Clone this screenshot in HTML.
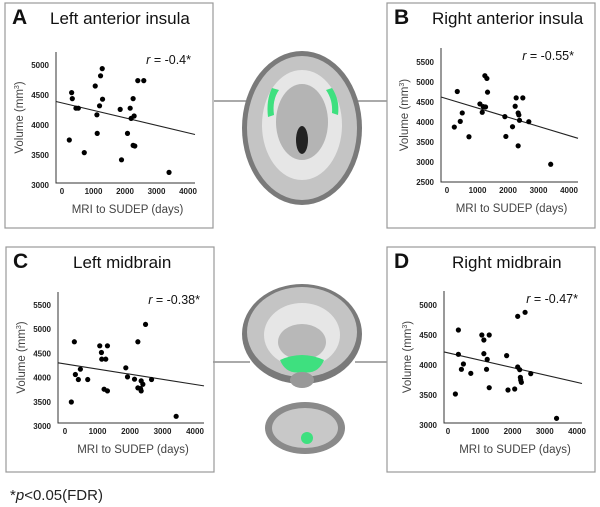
<!DOCTYPE html>
<html><head><meta charset="utf-8"><style>
body{margin:0;background:#fff;}
svg{display:block;font-family:"Liberation Sans",sans-serif;}
</style></head><body>
<svg id="fig" width="600" height="507" viewBox="0 0 600 507">
<g stroke="#555" stroke-width="1">
<line x1="214" y1="101" x2="252" y2="101"/><line x1="352" y1="101" x2="387" y2="101"/>
<line x1="213" y1="362" x2="250" y2="362"/><line x1="355" y1="362" x2="387" y2="362"/>
</g>
<g>
<ellipse cx="302" cy="128" rx="60" ry="77" fill="#7a7a7a"/>
<ellipse cx="302" cy="128" rx="55" ry="72" fill="#c4c4c4"/>
<ellipse cx="302" cy="125" rx="40" ry="55" fill="#e6e6e6"/>
<ellipse cx="302" cy="122" rx="26" ry="38" fill="#b4b4b4"/>
<ellipse cx="302" cy="140" rx="6" ry="14" fill="#222"/>
<path d="M272 88 Q266 100 268 117 L274 115 Q272 100 279 90Z" fill="#3ee07f"/>
<path d="M332 88 Q340 100 338 115 L332 113 Q333 100 326 90Z" fill="#3ee07f"/>
</g>
<g>
<ellipse cx="302" cy="334" rx="60" ry="50" fill="#7a7a7a"/>
<ellipse cx="302" cy="332" rx="55" ry="45" fill="#c4c4c4"/>
<ellipse cx="302" cy="335" rx="38" ry="32" fill="#e6e6e6"/>
<ellipse cx="302" cy="342" rx="24" ry="18" fill="#b8b8b8"/>
<path d="M280 360 Q302 350 324 360 Q318 375 302 372 Q286 375 280 360Z" fill="#3ee07f"/>
<ellipse cx="302" cy="380" rx="12" ry="8" fill="#999"/>
</g>
<g>
<ellipse cx="305" cy="428" rx="40" ry="26" fill="#8a8a8a"/>
<ellipse cx="305" cy="428" rx="33" ry="20" fill="#c8c8c8"/>
<circle cx="307" cy="438" r="6" fill="#3ee07f"/>
</g>
<text x="10" y="500" font-size="15" fill="#222">*<tspan font-style="italic">p</tspan>&lt;0.05(FDR)</text>
</svg>
<script>
const xTicks=[0,1000,2000,3000,4000];
const aX=[232,306,327,443,517,707,1055,1108,1118,1192,1224,1277,1287,1847,1889,2079,2164,2195,2258,2290,2258,2311,2406,2596,3398];
const aY=[3750,4540,4440,4280,4280,3540,4650,4170,3860,4320,4820,4940,4430,4260,3420,3860,4280,4110,4440,4150,3660,3650,4740,4740,3210];
const aTicks=[3000,3500,4000,4500,5000];
const aFit=[4368,-0.1246];
const bX=[240,337,435,500,720,1079,1155,1188,1242,1308,1264,1329,1897,1930,2148,2235,2268,2333,2355,2333,2377,2486,2682,3400];
const bY=[3874,4762,4016,4226,3631,4452,4243,4385,5157,5089,4376,4746,4134,3639,3882,4394,4603,4226,4176,3404,4042,4603,4008,2943];
const bTicks=[2500,3000,3500,4000,4500,5000,5500];
const bFit=[4580,-0.23];
const cX=[195,288,319,411,473,699,1069,1121,1131,1254,1306,1203,1306,1871,1923,2139,2242,2242,2324,2344,2344,2396,2478,2663,3420];
const cY=[3496,4740,4064,3960,4174,3960,4657,4519,4381,4381,4657,3760,3725,4202,4015,3967,4740,3787,3773,3932,3725,3863,5099,3960,3200];
const cTicks=[3000,3500,4000,4500,5000,5500];
const cFit=[4282,-0.106];
const dX=[229,322,322,416,478,707,1049,1112,1112,1195,1216,1278,1278,1818,1860,2068,2161,2161,2223,2244,2255,2275,2390,2566,3366];
const dY=[3517,4583,4178,3928,4017,3861,4500,4417,4189,3928,4094,4500,3622,4156,3583,3600,4811,3967,3922,3794,3750,3711,4878,3856,3111];
const dTicks=[3000,3500,4000,4500,5000];
const dFit=[4203,-0.123];

const NS='http://www.w3.org/2000/svg';
const svg=document.getElementById('fig');
function mk(tag,attrs,parent){const e=document.createElementNS(NS,tag);for(const k in attrs)e.setAttribute(k,attrs[k]);(parent||svg).appendChild(e);return e;}

function panel(p){
  const g=mk('g',{});
  
  
  const box=mk('rect',{x:p.bx,y:p.by,width:208,height:225,fill:'none',stroke:'#999','stroke-width':1.2},g);
  
  
  const letter=mk('text',{x:p.bx+7,y:p.by+21,'font-size':21,'font-weight':'bold',fill:'#111'},g);
  letter.textContent=p.letter;
  
  
  const title=mk('text',{x:p.tx,y:p.by+21,'font-size':17,fill:'#111'},g);
  title.textContent=p.title;
  
  
  const sx=v=>p.x0+(v/4000)*(p.x1-p.x0);
  const sy=v=>p.y0-(v-p.ymin)/(p.ymax-p.ymin)*(p.y0-p.y1);
  const ax=mk('path',{d:`M${p.ax} ${p.top} V${p.bot} H${p.right}`,fill:'none',stroke:'#333','stroke-width':1},g);
  
  
  p.yt.forEach(t=>{
    const e=mk('text',{x:p.ax-7,y:sy(t)+3,'font-size':8,'font-weight':'bold','text-anchor':'end',fill:'#222'},g);
    e.textContent=t;
    
    
  });
  xTicks.forEach(t=>{
    const e=mk('text',{x:sx(t),y:p.bot+11,'font-size':8,'font-weight':'bold','text-anchor':'middle',fill:'#222'},g);
    e.textContent=t;
    
    
  });
  const xl=mk('text',{x:(p.ax+p.right)/2+2,y:p.bot+30,'font-size':11.5,'text-anchor':'middle',fill:'#444'},g);
  xl.textContent='MRI to SUDEP (days)';
  
  
  const yc=(p.top+p.bot)/2, yx=p.ax-33;
  const yl=mk('text',{x:yx,y:yc,'font-size':11.5,'text-anchor':'middle',fill:'#444',transform:`rotate(-90 ${yx} ${yc})`},g);
  yl.innerHTML='Volume (mm<tspan dy="-4" font-size="7">3</tspan><tspan dy="4">)</tspan>';
  
  
  const r=mk('text',{x:p.right-4,y:p.top+12,'font-size':12.5,'text-anchor':'end',fill:'#111'},g);
  r.innerHTML='<tspan font-style="italic">r</tspan> = '+p.r+'*';
  
  
  const xs=-(p.x0-p.ax)/(p.x1-p.x0)*4000, xe=4000+(p.right-p.x1)/(p.x1-p.x0)*4000;
  const ln=mk('line',{x1:sx(xs),y1:sy(p.fit[0]+p.fit[1]*xs),x2:sx(xe),y2:sy(p.fit[0]+p.fit[1]*xe),stroke:'#222','stroke-width':1.1},g);
  
  
  p.xs.forEach((v,i)=>{
    const c=mk('circle',{cx:sx(v),cy:sy(p.ys[i]),r:2.6,fill:'#000'},g);
    
    
  });
}
panel({id:'left-anterior-insula',letter:'A',title:'Left anterior insula',bx:5,by:3,tx:50,xs:aX,ys:aY,yt:aTicks,fit:aFit,r:'-0.4',
 x0:62,x1:188,ymin:3000,ymax:5000,y0:185,y1:65,ax:56,top:52,bot:183,right:195});
panel({id:'right-anterior-insula',letter:'B',title:'Right anterior insula',bx:387,by:3,tx:432,xs:bX,ys:bY,yt:bTicks,fit:bFit,r:'-0.55',
 x0:447,x1:569,ymin:2500,ymax:5500,y0:182,y1:62,ax:441,top:48,bot:182,right:578});
panel({id:'left-midbrain',letter:'C',title:'Left midbrain',bx:6,by:247,tx:73,xs:cX,ys:cY,yt:cTicks,fit:cFit,r:'-0.38',
 x0:65,x1:195,ymin:3000,ymax:5500,y0:426,y1:305,ax:58,top:292,bot:423,right:204});
panel({id:'right-midbrain',letter:'D',title:'Right midbrain',bx:387,by:247,tx:452,xs:dX,ys:dY,yt:dTicks,fit:dFit,r:'-0.47',
 x0:448,x1:577,ymin:3000,ymax:5000,y0:425,y1:305,ax:444,top:291,bot:423,right:582});
</script>
</body></html>
